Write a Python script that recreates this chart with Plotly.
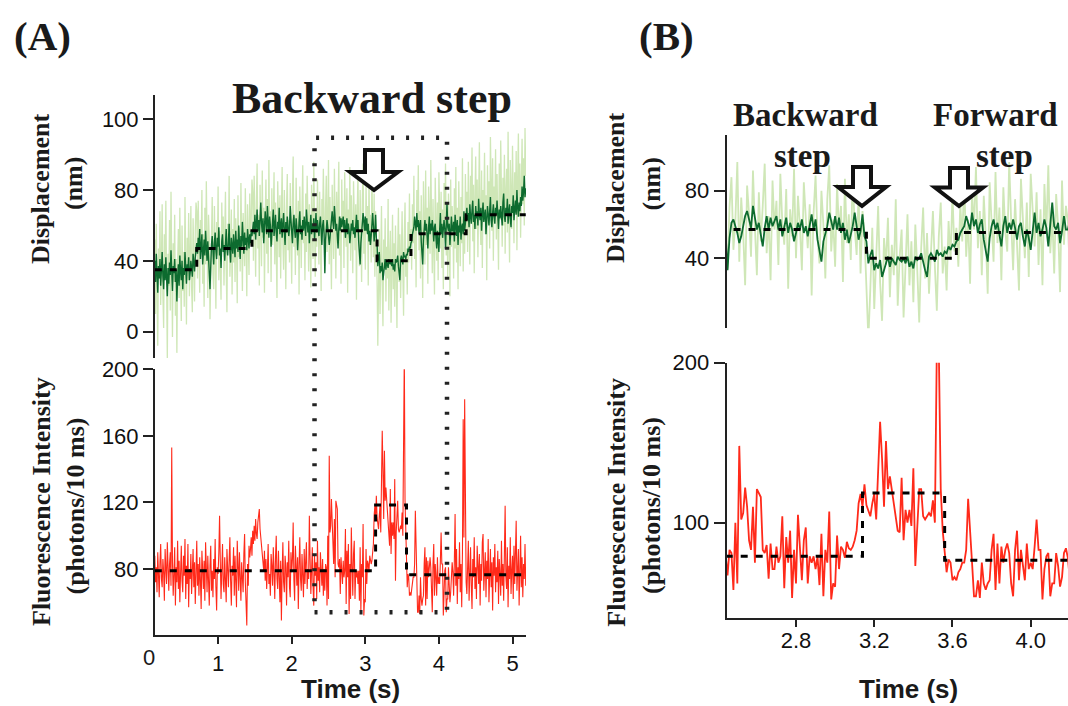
import numpy as np
import plotly.graph_objects as go

W, H = 1068, 706

# Recording: first frame time and frame interval (s)
T0, DT = 0.14, 0.01

# Fluorescence intensity (photons / 10 ms), one value per frame
fluorescence = [
    88, 72, 81, 66, 90, 79, 63, 84, 95, 74, 69, 86, 78, 61, 92, 80, 71, 96, 75, 67,
    83, 90, 70, 153, 84, 64, 77, 93, 58, 81, 72, 97, 68, 85, 60, 79, 94, 73, 66, 88,
    76, 98, 62, 82, 71, 95, 57, 80, 74, 89, 65, 78, 92, 69, 84, 59, 76, 97, 70, 83,
    64, 87, 73, 56, 91, 79, 68, 85, 61, 96, 75, 66, 88, 72, 58, 82, 94, 67, 79, 63,
    86, 74, 98, 69, 55, 81, 77, 90, 112, 84, 62, 79, 95, 71, 66, 87, 74, 60, 92, 78,
    69, 85, 99, 73, 58, 82, 76, 93, 64, 88, 71, 57, 97, 80, 67, 90, 74, 61, 84, 78,
    66, 89, 101, 72, 59, 46, 83, 70, 94, 87, 92, 99, 88, 103, 95, 106, 97, 110, 101, 98,
    108, 112, 116, 104, 99, 92, 88, 84, 79, 91, 73, 86, 68, 80, 95, 71, 77, 64, 89, 82,
    70, 93, 76, 62, 87, 100, 74, 68, 91, 79, 60, 85, 49, 77, 96, 72, 66, 88, 81, 58,
    84, 75, 97, 69, 63, 90, 78, 86, 108, 73, 61, 94, 80, 70, 87, 56, 82, 99, 74, 67,
    89, 77, 63, 92, 71, 85, 96, 68, 80, 74, 112, 86, 65, 79, 93, 70, 58, 88, 76, 84,
    62, 97, 73, 81, 66, 90, 78, 70, 86, 64, 80,
    67, 83, 81, 58, 100, 62, 148, 102, 106, 122,
    110, 89, 83, 110, 75, 121, 118, 116, 83, 81,
    86, 65, 87, 71, 71, 85, 75, 79, 104, 59,
    91, 75, 95, 53, 83, 62, 105, 83, 64, 89,
    97, 62, 79, 75, 79, 71, 79, 61, 93, 54,
    83, 75, 107, 52, 62, 60, 92, 71, 85, 83,
    78, 88, 84, 83, 85, 89, 95, 112, 118, 110,
    124, 111, 108, 104, 112, 118, 102, 129, 163, 140,
    110, 151, 121, 129, 121, 112, 106, 95, 94, 128,
    89, 108, 100, 108, 98, 134, 73, 102, 121, 121,
    104, 102, 104, 106, 104, 114, 100, 210, 210, 121,
    95, 83, 69, 77, 75, 64, 66, 64, 69, 71,
    75, 75, 83, 115, 91, 75, 54, 54, 64, 53,
    75, 62, 58, 62, 64, 83, 93, 58, 87, 62,
    85, 75, 83, 87, 81, 62, 54, 83, 95, 64,
    83, 75, 64, 87, 71, 75, 71, 85, 102, 83,
    83, 52, 71, 79, 81, 54, 62, 62, 81, 73,
    60, 66, 81, 84,
    78, 64, 85, 113, 70, 92, 59, 81, 74, 96, 66, 83, 57, 90, 170, 99, 182, 88, 72, 65,
    84, 97, 61, 79, 93, 70, 56, 86, 75, 99, 68, 81, 62, 94, 77, 71, 89, 58, 83, 73,
    96, 101, 67, 80, 90, 63, 85, 74, 98, 60, 78, 92, 69, 84, 55, 87, 76, 95, 66, 81,
    72, 91, 59, 86, 77, 64, 97, 70, 83, 61, 89, 118, 75, 68, 93, 57, 82, 74, 99, 65,
    79, 88, 62, 94, 71, 85, 109, 67, 80, 92, 58, 76, 100, 69, 87, 63, 83, 74, 95, 70,
]

# Bead displacement (nm), raw record
displacement_raw = [
    52, 10, 61, 24, -8, 47, 30, 68, 15, 39, 72, 21, 2, 55, 33, 74, 18, -15, 44, 26,
    63, 12, 79, 35, -3, 50, 28, 66, 9, 41, -12, 37, 58, 19, 70, 31, 6, 60, 23, 45,
    14, 76, 36, 4, 53, 29, 67, 20, 42, 71, 25, 11, 64, 48, 17, 57, 73,
    68, 30, 74, 41, 22, 63, 49, 80, 27, 55, 14, 70, 38, 85, 45, 19, 66, 52, 7, 35,
    60, 76, 33, 24, 71, 50, 13, 62, 43, 82, 29, 57, 40, 18, 73, 46, 65, 26, 54, 79,
    36, 11, 61, 48, 88, 31, 44, 69, 21, 58, 39, 75, 28, 64, 51, 16, 77, 42, 59, 34,
    84, 47, 23, 67, 53, 37, 81, 44, 20, 72, 56, 32, 78, 49, 63, 86,
    79, 40, 88, 58, 31, 72, 95, 47, 66, 26, 83, 60, 37, 91, 53, 70, 22, 64, 86, 44,
    75, 33, 97, 56, 68, 28, 81, 49, 62, 90, 38, 73, 54, 19, 85, 61, 42, 77, 30, 67,
    93, 51, 35, 80, 58, 24, 71, 89, 46, 63, 39, 84, 55, 27, 76, 99, 48, 65, 32, 87,
    59, 43, 74, 21, 82, 57, 36, 69, 94, 50, 61, 29, 78, 45, 88, 66, 34, 72, 53, 25,
    83, 62, 41, 96, 57, 31, 70, 48, 86, 64, 38, 79, 52, 23, 75, 60, 92, 44,
    34, 70, 88, 45, 62, 97, 38, 76, 55, 24, 83, 66, 41, 92, 58, 30, 79, 50, 71, 96,
    43, 65, 27, 86, 57, 74, 36, 90, 61, 48, 81, 22, 69, 53, 93, 40, 77, 59, 33, 85,
    64, 46, 72, 18, 67, 89, 52, 37, 80, 60, 28, 75, 95, 44, 63, 35, 84, 56, 71, 26,
    87, 49, 66, 39, 91, 58, 42, 78, 31, 68, 54, 29,
    -8, 22, 58, 10, 45, 71, 26, 3, 52, 36, 64, 17, 48, 30, 75, 12, 41, 57, 5, 38,
    66, 24, 50, 14, 60, 33, 2, 46, 70, 28, 55, 19, 42, 68, 35, 9, 53, 73, 31, 47,
    21, 62, 39, 78, 44, 58,
    35, 72, 50, 88, 41, 63, 25, 80, 57, 94, 46, 68, 30, 77, 53, 19, 85, 60, 38, 91,
    49, 70, 27, 82, 56, 44, 97, 62, 33, 75, 51, 21, 87, 58, 40, 73, 29, 90, 64, 47,
    79, 36, 69, 24, 84, 55, 95, 43, 66, 31, 78, 59, 20, 86, 48, 71,
    62, 30, 81, 47, 93, 39, 70, 24, 85, 56, 37, 76, 50, 98, 34, 67, 44, 89, 58,
    79, 45, 96, 62, 38, 88, 70, 104, 51, 83, 33, 75, 99, 58, 86, 42, 72, 107, 64, 49,
    91, 36, 80, 68, 101, 55, 77, 29, 94, 61, 85, 47, 110, 73, 57, 98, 40, 82, 66, 103,
    52, 89, 71, 35, 95, 63, 108, 76, 48, 87, 60, 100, 44, 79, 92, 56, 113, 70, 39, 97,
    84, 58, 105, 74, 50, 90, 67, 102, 46, 86, 112, 65, 95, 53, 81, 109, 72, 98, 60, 115,
    88,
]

# Bead displacement (nm), filtered record
displacement_filtered = [
    40, 28, 44, 33, 22, 37, 30, 41, 26, 35, 45, 31, 24, 38, 29, 42, 34, 20, 36, 27,
    39, 32, 46, 30, 23, 37, 33, 41, 28, 35, 17, 31, 38, 26, 43, 34, 29, 40, 24, 36,
    32, 45, 30, 27, 38, 35, 42, 29, 33, 40, 36, 31, 44, 38, 34, 42, 46,
    50, 44, 53, 47, 58, 41, 49, 55, 38, 46, 52, 43, 57, 48, 40, 51, 45, 33, 24, 42,
    49, 54, 44, 38, 50, 56, 46, 41, 53, 48, 59, 43, 47, 36, 51, 55, 45, 49, 40, 52,
    58, 47, 43, 50, 61, 46, 39, 53, 48, 44, 55, 50, 42, 57, 47, 52, 45, 60, 49, 41,
    54, 48, 62, 51, 44, 56, 49, 53, 46, 58, 52, 47, 55, 50, 57, 54,
    58, 62, 55, 66, 52, 60, 69, 57, 63, 54, 67, 73, 61, 56, 64, 50, 59, 68, 62, 55,
    71, 58, 53, 65, 60, 48, 57, 63, 69, 54, 61, 66, 56, 51, 62, 58, 70, 55, 60, 64,
    53, 59, 67, 57, 49, 62, 56, 65, 60, 54, 58, 71, 63, 55, 50, 61, 66, 57, 53, 64,
    59, 46, 58, 62, 68, 55, 60, 52, 63, 57, 65, 61, 54, 69, 58, 56, 62, 50, 59, 66,
    55, 61, 57, 64, 52, 60, 67, 56, 63, 58, 54, 61, 65, 57, 49, 60, 63, 55,
    33, 52, 61, 63, 59, 55, 49, 53, 59, 65, 68, 62, 58, 71, 65, 57, 61, 54, 47, 58,
    65, 57, 64, 59, 62, 65, 57, 63, 53, 58, 64, 55, 61, 57, 50, 55, 61, 57, 63, 55,
    59, 53, 60, 66, 57, 63, 51, 44, 38, 50, 55, 59, 67, 62, 57, 65, 57, 64, 55, 61,
    51, 57, 49, 54, 59, 67, 60, 51, 56, 66, 53, 50,
    37, 42, 45, 33, 37, 34, 39, 29, 33, 37, 41, 35, 40, 38, 36, 41, 39, 38, 40, 37,
    41, 35, 38, 34, 41, 39, 40, 43, 37, 33, 29, 41, 43, 41, 38, 45, 42, 43, 41, 44,
    43, 47, 45, 48, 47, 50,
    51, 55, 57, 59, 65, 61, 57, 67, 59, 63, 55, 60, 63, 51, 44, 38, 52, 59, 63, 57,
    61, 54, 47, 59, 65, 55, 61, 57, 63, 58, 51, 59, 61, 53, 47, 57, 52, 45, 57, 67,
    55, 61, 53, 57, 63, 58, 47, 60, 73, 59, 57, 61, 49, 56, 65, 57,
    57, 62, 51, 66, 58, 54, 63, 49, 60, 56, 65, 52, 59, 61, 55, 68, 57, 62, 64,
    70, 63, 67, 59, 72, 65, 61, 69, 74, 62, 66, 58, 71, 64, 68, 60, 75, 66, 63, 70,
    57, 67, 73, 62, 65, 69, 55, 64, 71, 66, 60, 68, 76, 63, 59, 67, 72, 65, 61, 70,
    66, 74, 62, 58, 69, 64, 71, 67, 60, 73, 78, 65, 62, 70, 66, 75, 61, 68, 72, 64,
    59, 71, 67, 77, 63, 69, 74, 66, 80, 70, 65, 73, 68, 76, 71, 82, 74, 79, 88, 76,
    81,
]

# Step fits: change times (s) and dwell levels
disp_step_times = [0.14, 0.71, 1.46, 3.16, 3.62, 4.37, 5.18]
disp_step_levels = [35, 47, 57, 40, 55.3, 66]
fluor_step_times = [0.14, 3.14, 3.56, 5.18]
fluor_step_levels = [79, 118.5, 76.5]

# Window of the enlarged view (s)
zoom_window = [2.31, 4.11]

# Tick labels
disp_tickvals_A = [0, 40, 80, 120]
disp_ticktext_A = ["0", "40", "80", "100"]
fluor_tickvals_A = [80, 120, 160, 200]
time_tickvals_A = [1, 2, 3, 4, 5]
disp_tickvals_B = [40, 80]
fluor_tickvals_B = [100, 200]
time_tickvals_B = [2.8, 3.2, 3.6, 4.0]
time_ticktext_B = ["2.8", "3.2", "3.6", "4.0"]

LIGHT = "#cfe7b7"
DARK = "#0d6b2f"
RED = "#ff2a1a"
INK = "#1a1a1a"


def frame_times(values):
    return np.round(T0 + DT * np.arange(len(values)), 2)


def px(x):
    return x / W


def py(y):
    return 1 - y / H


t_f = frame_times(fluorescence)
t_raw = frame_times(displacement_raw)
t_filt = frame_times(displacement_filtered)
disp_fit_y = disp_step_levels + [disp_step_levels[-1]]
fluor_fit_y = fluor_step_levels + [fluor_step_levels[-1]]

fig = go.Figure()

panels = [
    # top axes, bottom axes, light / dark / red line widths
    ("x", "y", "x2", "y2", 1.3, 1.4, 1.1),
    ("x3", "y3", "x4", "y4", 1.8, 1.8, 1.8),
]
for xt, yt, xb, yb, lw_light, lw_dark, lw_red in panels:
    fig.add_trace(go.Scatter(x=t_raw, y=displacement_raw, mode="lines",
                             line=dict(color=LIGHT, width=lw_light),
                             xaxis=xt, yaxis=yt, hoverinfo="skip"))
    fig.add_trace(go.Scatter(x=t_filt, y=displacement_filtered, mode="lines",
                             line=dict(color=DARK, width=lw_dark),
                             xaxis=xt, yaxis=yt, hoverinfo="skip"))
    fig.add_trace(go.Scatter(x=disp_step_times, y=disp_fit_y, mode="lines",
                             line=dict(color="black", width=3, dash="7px,8px", shape="hv"),
                             xaxis=xt, yaxis=yt, hoverinfo="skip"))
    fig.add_trace(go.Scatter(x=t_f, y=fluorescence, mode="lines",
                             line=dict(color=RED, width=lw_red),
                             xaxis=xb, yaxis=yb, hoverinfo="skip"))
    fig.add_trace(go.Scatter(x=fluor_step_times, y=fluor_fit_y, mode="lines",
                             line=dict(color="black", width=3, dash="7px,8px", shape="hv"),
                             xaxis=xb, yaxis=yb, hoverinfo="skip"))

axis_common = dict(showgrid=False, zeroline=False, showline=True, linecolor="#222",
                   linewidth=2, ticks="outside", tickcolor="#222", tickwidth=2,
                   tickfont=dict(family="Liberation Sans, Arial", size=22, color="#111"),
                   automargin=False, fixedrange=True)

xA = [px(155), px(526)]
xrA = [(155 - 144.5) / 73.6, (526 - 144.5) / 73.6]
xB = [px(726.7), 1.0]
xrB = [2.8 - (796 - 726.7) / 195.6, 2.8 + (1068 - 796) / 195.6]

fig.update_layout(
    width=W, height=H, margin=dict(l=0, r=0, t=0, b=0),
    paper_bgcolor="white", plot_bgcolor="rgba(0,0,0,0)", showlegend=False,
    xaxis=dict(domain=xA, range=xrA, visible=False, anchor="y"),
    yaxis=dict(axis_common, domain=[py(358), py(95)], range=[-14.9, 133.7],
               tickvals=disp_tickvals_A, ticktext=disp_ticktext_A, ticklen=10, anchor="x"),
    xaxis2=dict(axis_common, domain=xA, range=xrA, tickvals=time_tickvals_A,
                ticklen=7, anchor="y2"),
    yaxis2=dict(axis_common, domain=[py(635.3), py(369.3)], range=[40.16, 200],
                tickvals=fluor_tickvals_A, ticklen=10, anchor="x2"),
    xaxis3=dict(domain=xB, range=xrB, visible=False, anchor="y3"),
    yaxis3=dict(axis_common, domain=[py(328.3), py(135)], range=[-1.42, 112.96],
                tickvals=disp_tickvals_B, ticklen=11, anchor="x3"),
    xaxis4=dict(axis_common, domain=xB, range=xrB, tickvals=time_tickvals_B,
                ticktext=time_ticktext_B, ticklen=7, ticklabelstandoff=-5, anchor="y4"),
    yaxis4=dict(axis_common, domain=[py(617.7), py(362.7)], range=[40.6, 200],
                tickvals=fluor_tickvals_B, ticklen=11, anchor="x4"),
)


def arrow_path(cx, top, neck, tip, shaft, head):
    pts = [(cx - shaft, top), (cx - shaft, neck), (cx - head, neck), (cx, tip),
           (cx + head, neck), (cx + shaft, neck), (cx + shaft, top)]
    return "M " + " L ".join(f"{px(x):.5f},{py(y):.5f}" for x, y in pts) + " Z"


shapes = [
    dict(type="rect", xref="x2", yref="paper", x0=zoom_window[0], x1=zoom_window[1],
         y0=py(612.3), y1=py(137.7), line=dict(color="#222", width=4.5, dash="3px,12px"),
         fillcolor="rgba(0,0,0,0)"),
]
for cx, top, neck, tip in [(374, 150, 172, 190), (862, 167, 187, 206), (959, 168, 187.5, 206)]:
    shapes.append(dict(type="path", xref="paper", yref="paper",
                       path=arrow_path(cx, top, neck, tip, 9, 24),
                       line=dict(color="#111", width=4), fillcolor="white"))
fig.update_layout(shapes=shapes)

serif = "Liberation Serif, Times New Roman, serif"
sans = "Liberation Sans, Arial, sans-serif"


def note(text, x, y, size, family=serif, bold=True, angle=0):
    return dict(text=f"<b>{text}</b>" if bold else text, x=px(x), y=py(y),
                xref="paper", yref="paper", xanchor="center", yanchor="middle",
                showarrow=False, textangle=angle,
                font=dict(family=family, size=size, color=INK))


annotations = [
    note("(A)", 42, 36, 41),
    note("(B)", 666, 36, 41),
    note("Backward step", 372, 98, 44),
    note("Backward", 805, 115, 33),
    note("step", 802, 156, 33),
    note("Forward", 996, 115, 33),
    note("step", 1004, 156, 33),
    note("Displacement", 40, 189, 26, angle=-90),
    note("(nm)", 74, 184, 26, angle=-90),
    note("Fluorescence Intensity", 41, 502, 26, angle=-90),
    note("(photons/10 ms)", 74.5, 506, 26, angle=-90),
    note("Displacement", 615, 188, 26, angle=-90),
    note("(nm)", 651, 184.5, 26, angle=-90),
    note("Fluorescence Intensity", 615.7, 502, 26, angle=-90),
    note("(photons/10 ms)", 651, 506, 26, angle=-90),
    note("Time (s)", 350, 689, 26, family=sans),
    note("Time (s)", 908, 689, 26, family=sans),
    note("0", 149, 657, 22, family=sans, bold=False),
]
fig.update_layout(annotations=annotations)

fig.write_html("out.html")
